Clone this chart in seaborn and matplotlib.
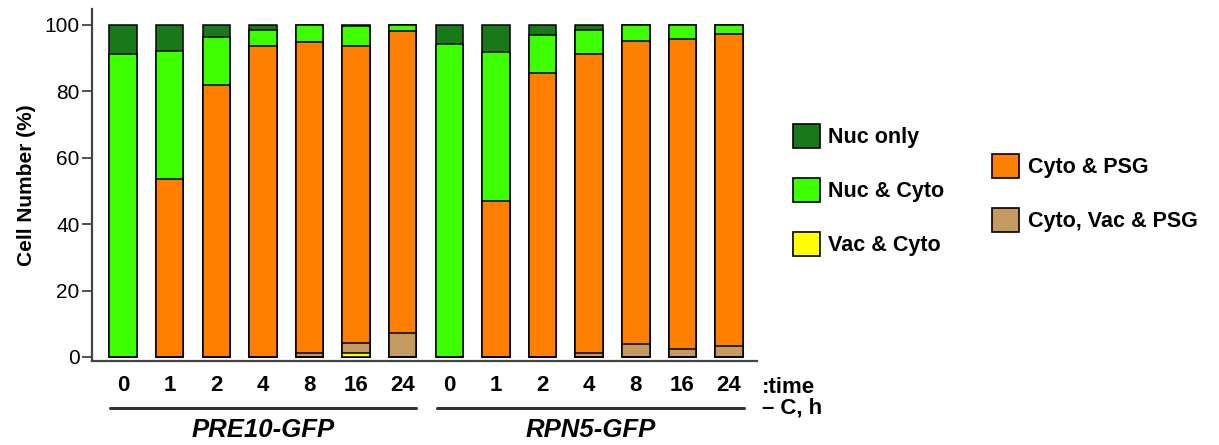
import numpy as np
import pandas as pd
import seaborn as sns
import matplotlib.pyplot as plt
from matplotlib.patches import Patch
import matplotlib.transforms as mtransforms

# time points (h) for each strain
times = ["0", "1", "2", "4", "8", "16", "24"]
strains = ["PRE10-GFP", "RPN5-GFP"]

# percentages per localisation class, PRE10 then RPN5
vac_cyto = [0, 0, 0, 0, 0, 1.3, 0,
            0, 0, 0, 0, 0, 0, 0]
cyto_vac_psg = [0, 0, 0, 0, 1.1, 2.8, 7.1,
                0, 0, 0, 1.1, 3.9, 2.4, 3.4]
cyto_psg = [0, 53.7, 82.0, 93.6, 93.8, 89.7, 91.1,
            0, 47.1, 85.4, 90.1, 91.3, 93.3, 93.8]
nuc_cyto = [91.2, 38.3, 14.4, 4.9, 5.1, 5.8, 1.8,
            94.2, 44.6, 11.5, 7.4, 4.8, 4.3, 2.8]
nuc_only = [8.8, 8.0, 3.6, 1.5, 0, 0.4, 0,
            5.8, 8.3, 3.1, 1.4, 0, 0, 0]

classes = ["Vac & Cyto", "Cyto, Vac & PSG", "Cyto & PSG", "Nuc & Cyto", "Nuc only"]
colors = {
    "Nuc only": "#17791A",
    "Nuc & Cyto": "#3DFF00",
    "Vac & Cyto": "#FFFF00",
    "Cyto & PSG": "#FF8000",
    "Cyto, Vac & PSG": "#C39A60",
}

# build a tidy frame with cumulative heights (bottom -> top)
keys = [f"{s}_{t}" for s in strains for t in times]
df = pd.DataFrame({"sample": keys, "Vac & Cyto": vac_cyto,
                   "Cyto, Vac & PSG": cyto_vac_psg, "Cyto & PSG": cyto_psg,
                   "Nuc & Cyto": nuc_cyto, "Nuc only": nuc_only})
cum = df[classes].cumsum(axis=1)
cum["sample"] = df["sample"]

sns.set_style("ticks")
plt.rcParams["font.family"] = ["Liberation Sans", "DejaVu Sans"]
plt.rcParams.update({"text.color": "black", "axes.labelcolor": "black",
                     "xtick.labelcolor": "black", "ytick.labelcolor": "black"})

fig = plt.figure(figsize=(12.19, 4.45), dpi=100)
ax = fig.add_axes([0.0755, 0.1888, 0.5455, 0.791])

# draw tallest cumulative layer first, then smaller ones on top
for cls in reversed(classes):
    sns.barplot(data=cum, x="sample", y=cls, order=keys, color=colors[cls],
                saturation=1, width=0.59, edgecolor="black", linewidth=1.1,
                errorbar=None, ax=ax)

ax.set_xlim(-0.665, 13.6)
ax.set_ylim(-1.2, 104.8)
ax.set_yticks([0, 20, 40, 60, 80, 100])
ax.tick_params(axis="y", labelsize=15, length=7, width=1.3, color="#444444", pad=2)
ax.tick_params(axis="x", length=0, pad=10)
ax.set_xticks(range(len(keys)))
ax.set_xticklabels(times * 2, fontsize=16, fontweight="bold")
ax.set_xlabel("")
ax.set_ylabel("Cell Number (%)", fontsize=15, fontweight="bold", labelpad=6)
sns.despine(ax=ax)
for side in ["left", "bottom"]:
    ax.spines[side].set_color("#444444")
    ax.spines[side].set_linewidth(1.6)

# strain brackets below the time labels
trans = mtransforms.blended_transform_factory(ax.transData, fig.transFigure)
for (x0, x1), name in zip([(-0.28, 6.29), (6.74, 13.32)], strains):
    ax.plot([x0, x1], [0.0835, 0.0835], transform=trans, color="#333333",
            lw=2.2, clip_on=False)
    ax.text((x0 + x1) / 2, 0.034, name, transform=trans, ha="center",
            va="center", fontsize=18.5, fontweight="bold", style="italic")

fig.text(0.625, 0.130, ":time", fontsize=16, fontweight="bold", va="center")
fig.text(0.625, 0.083, "\u2013 C, h", fontsize=16, fontweight="bold", va="center")

# legends
def handles(names):
    return [Patch(facecolor=colors[n], edgecolor="black", lw=1.2, label=n) for n in names]

kw = dict(frameon=False, handlelength=1.25, handleheight=1.35,
          handletextpad=0.4, labelspacing=1.38, borderpad=0, borderaxespad=0,
          loc="upper left", bbox_transform=fig.transFigure,
          prop={"weight": "bold", "size": 15.5})
fig.legend(handles=handles(["Nuc only", "Nuc & Cyto", "Vac & Cyto"]),
           bbox_to_anchor=(0.6505, 0.721), **kw)
fig.legend(handles=handles(["Cyto & PSG", "Cyto, Vac & PSG"]),
           bbox_to_anchor=(0.8138, 0.655), **kw)

fig.savefig("out.png", dpi=100)
